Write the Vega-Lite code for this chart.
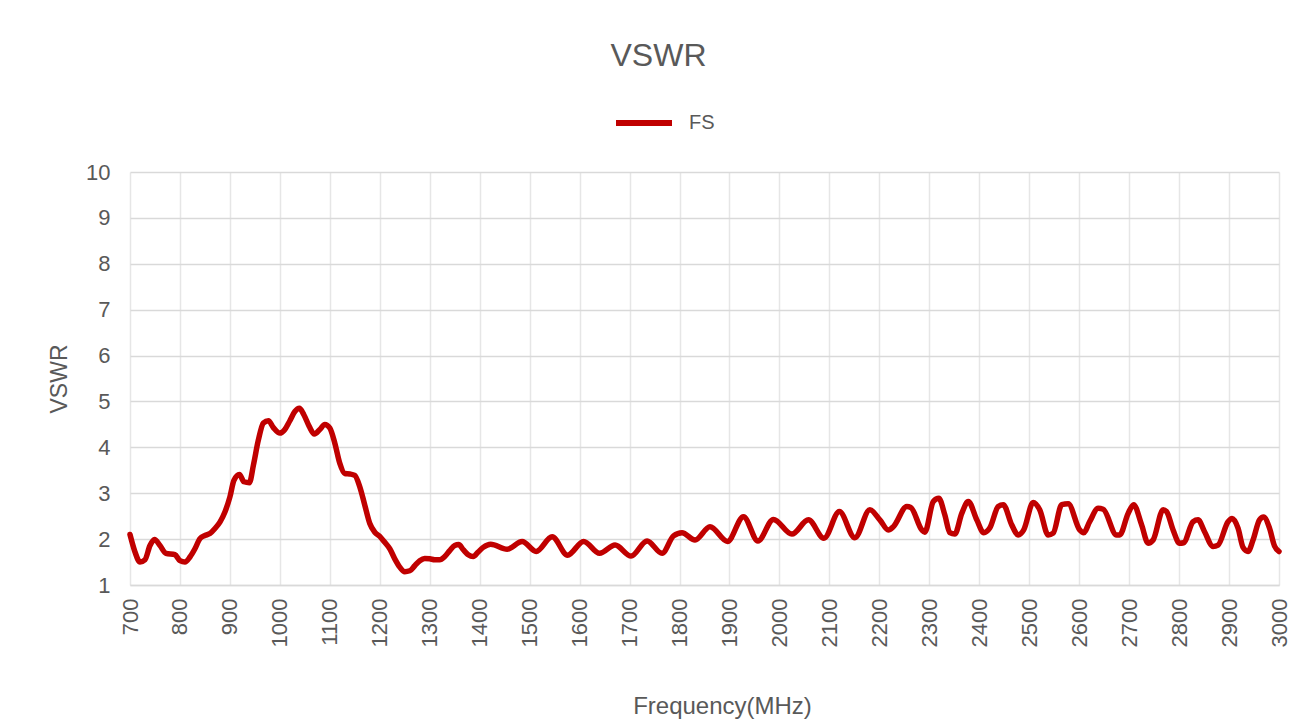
{
  "$schema": "https://vega.github.io/schema/vega-lite/v6.json",
  "width": 1149,
  "height": 413,
  "autosize": {"type": "none"},
  "padding": {"left": 130, "top": 172, "right": 30, "bottom": 137},
  "background": "white",
  "title": {
    "text": "VSWR",
    "fontSize": 32,
    "font": "Liberation Sans",
    "fontWeight": "normal",
    "color": "#595959",
    "anchor": "middle",
    "dx": -46,
    "offset": 19
  },
  "config": {
    "view": {"stroke": null},
    "font": "Liberation Sans"
  },
  "data": {
    "values": [
      {"f": 700, "v": 2.10}, {"f": 710, "v": 1.72}, {"f": 720, "v": 1.50}, {"f": 730, "v": 1.55},
      {"f": 740, "v": 1.86}, {"f": 749, "v": 1.99}, {"f": 760, "v": 1.86}, {"f": 772, "v": 1.69},
      {"f": 790, "v": 1.66}, {"f": 800, "v": 1.53}, {"f": 810, "v": 1.50}, {"f": 820, "v": 1.61},
      {"f": 830, "v": 1.79}, {"f": 840, "v": 2.01}, {"f": 850, "v": 2.08}, {"f": 860, "v": 2.12},
      {"f": 870, "v": 2.23}, {"f": 880, "v": 2.37}, {"f": 890, "v": 2.59}, {"f": 900, "v": 2.92},
      {"f": 908, "v": 3.28}, {"f": 919, "v": 3.41}, {"f": 928, "v": 3.25}, {"f": 939, "v": 3.23},
      {"f": 947, "v": 3.61}, {"f": 957, "v": 4.16}, {"f": 967, "v": 4.53}, {"f": 977, "v": 4.58},
      {"f": 987, "v": 4.43}, {"f": 1000, "v": 4.31}, {"f": 1010, "v": 4.39}, {"f": 1020, "v": 4.58},
      {"f": 1030, "v": 4.78}, {"f": 1039, "v": 4.85}, {"f": 1048, "v": 4.71}, {"f": 1059, "v": 4.45},
      {"f": 1069, "v": 4.29}, {"f": 1080, "v": 4.39}, {"f": 1090, "v": 4.50}, {"f": 1100, "v": 4.42},
      {"f": 1110, "v": 4.09}, {"f": 1120, "v": 3.65}, {"f": 1130, "v": 3.43}, {"f": 1140, "v": 3.42},
      {"f": 1150, "v": 3.39}, {"f": 1160, "v": 3.14}, {"f": 1170, "v": 2.74}, {"f": 1180, "v": 2.34},
      {"f": 1190, "v": 2.15}, {"f": 1200, "v": 2.06}, {"f": 1210, "v": 1.93}, {"f": 1220, "v": 1.79},
      {"f": 1230, "v": 1.57}, {"f": 1240, "v": 1.39}, {"f": 1250, "v": 1.29}, {"f": 1260, "v": 1.31},
      {"f": 1270, "v": 1.42}, {"f": 1280, "v": 1.53}, {"f": 1290, "v": 1.58}, {"f": 1300, "v": 1.57},
      {"f": 1310, "v": 1.55}, {"f": 1320, "v": 1.55}, {"f": 1330, "v": 1.62}, {"f": 1340, "v": 1.75},
      {"f": 1350, "v": 1.86}, {"f": 1358, "v": 1.88}, {"f": 1367, "v": 1.77}, {"f": 1377, "v": 1.66},
      {"f": 1387, "v": 1.62}, {"f": 1397, "v": 1.72}, {"f": 1407, "v": 1.82}, {"f": 1422, "v": 1.89},
      {"f": 1455, "v": 1.78}, {"f": 1485, "v": 1.95}, {"f": 1513, "v": 1.73}, {"f": 1545, "v": 2.05},
      {"f": 1576, "v": 1.65}, {"f": 1608, "v": 1.95}, {"f": 1640, "v": 1.69}, {"f": 1671, "v": 1.87},
      {"f": 1703, "v": 1.63}, {"f": 1735, "v": 1.96}, {"f": 1765, "v": 1.69}, {"f": 1788, "v": 2.07},
      {"f": 1805, "v": 2.14}, {"f": 1831, "v": 1.98}, {"f": 1861, "v": 2.27}, {"f": 1896, "v": 1.95},
      {"f": 1928, "v": 2.49}, {"f": 1957, "v": 1.96}, {"f": 1988, "v": 2.43}, {"f": 2025, "v": 2.11},
      {"f": 2058, "v": 2.42}, {"f": 2089, "v": 2.02}, {"f": 2120, "v": 2.60}, {"f": 2151, "v": 2.03},
      {"f": 2181, "v": 2.64}, {"f": 2201, "v": 2.42}, {"f": 2218, "v": 2.20}, {"f": 2228, "v": 2.27},
      {"f": 2255, "v": 2.71}, {"f": 2263, "v": 2.69}, {"f": 2285, "v": 2.20}, {"f": 2291, "v": 2.15},
      {"f": 2308, "v": 2.82}, {"f": 2319, "v": 2.89}, {"f": 2331, "v": 2.53}, {"f": 2341, "v": 2.14},
      {"f": 2351, "v": 2.11}, {"f": 2365, "v": 2.56}, {"f": 2378, "v": 2.82}, {"f": 2395, "v": 2.42},
      {"f": 2409, "v": 2.14}, {"f": 2421, "v": 2.24}, {"f": 2438, "v": 2.71}, {"f": 2448, "v": 2.75},
      {"f": 2465, "v": 2.31}, {"f": 2478, "v": 2.09}, {"f": 2489, "v": 2.20}, {"f": 2508, "v": 2.80},
      {"f": 2521, "v": 2.64}, {"f": 2538, "v": 2.09}, {"f": 2548, "v": 2.13}, {"f": 2565, "v": 2.75},
      {"f": 2578, "v": 2.77}, {"f": 2601, "v": 2.20}, {"f": 2609, "v": 2.14}, {"f": 2621, "v": 2.38},
      {"f": 2638, "v": 2.67}, {"f": 2648, "v": 2.65}, {"f": 2675, "v": 2.09}, {"f": 2681, "v": 2.09},
      {"f": 2698, "v": 2.56}, {"f": 2709, "v": 2.75}, {"f": 2725, "v": 2.31}, {"f": 2738, "v": 1.91},
      {"f": 2748, "v": 1.98}, {"f": 2768, "v": 2.64}, {"f": 2775, "v": 2.60}, {"f": 2788, "v": 2.20},
      {"f": 2801, "v": 1.91}, {"f": 2809, "v": 1.92}, {"f": 2828, "v": 2.38}, {"f": 2838, "v": 2.42},
      {"f": 2851, "v": 2.16}, {"f": 2868, "v": 1.84}, {"f": 2878, "v": 1.87}, {"f": 2898, "v": 2.38},
      {"f": 2906, "v": 2.45}, {"f": 2918, "v": 2.24}, {"f": 2928, "v": 1.82}, {"f": 2938, "v": 1.73},
      {"f": 2948, "v": 1.98}, {"f": 2961, "v": 2.42}, {"f": 2969, "v": 2.48}, {"f": 2981, "v": 2.24},
      {"f": 2991, "v": 1.85}, {"f": 3000, "v": 1.73}
    ]
  },
  "mark": {"type": "line", "interpolate": "monotone", "strokeWidth": 5.5, "strokeCap": "round", "strokeJoin": "round"},
  "encoding": {
    "x": {
      "field": "f",
      "type": "quantitative",
      "scale": {"domain": [700, 3000], "nice": false, "zero": false},
      "axis": {
        "title": "Frequency(MHz)",
        "titleFontSize": 24,
        "titleFontWeight": "normal",
        "titleColor": "#595959",
        "titlePadding": 48,
        "titleX": 592,
        "values": [700, 800, 900, 1000, 1100, 1200, 1300, 1400, 1500, 1600, 1700, 1800, 1900, 2000, 2100, 2200, 2300, 2400, 2500, 2600, 2700, 2800, 2900, 3000],
        "format": "d",
        "labelAngle": -90,
        "labelAlign": "right",
        "labelBaseline": "middle",
        "labelFontSize": 22,
        "labelColor": "#595959",
        "labelPadding": 13,
        "labelOverlap": false,
        "labelFlush": false,
        "ticks": false,
        "domainColor": "#d9d9d9",
        "domainWidth": 1.5,
        "gridColor": "#e6e6e6",
        "gridWidth": 1.5
      }
    },
    "y": {
      "field": "v",
      "type": "quantitative",
      "scale": {"domain": [1, 10], "nice": false, "zero": false},
      "axis": {
        "title": "VSWR",
        "titleFontSize": 23,
        "titleFontWeight": "normal",
        "titleColor": "#595959",
        "titlePadding": 14,
        "values": [1, 2, 3, 4, 5, 6, 7, 8, 9, 10],
        "labelFontSize": 22,
        "labelColor": "#595959",
        "labelPadding": 20,
        "ticks": false,
        "domain": false,
        "gridColor": "#d9d9d9",
        "gridWidth": 1.5
      }
    },
    "color": {
      "datum": "FS",
      "type": "nominal",
      "scale": {"range": ["#C00000"]},
      "legend": {
        "title": null,
        "orient": "none",
        "legendX": 483,
        "legendY": -80,
        "symbolType": "stroke",
        "symbolSize": 3136,
        "symbolStrokeWidth": 6,
        "labelFontSize": 20,
        "labelColor": "#595959",
        "labelOffset": 14
      }
    }
  }
}
